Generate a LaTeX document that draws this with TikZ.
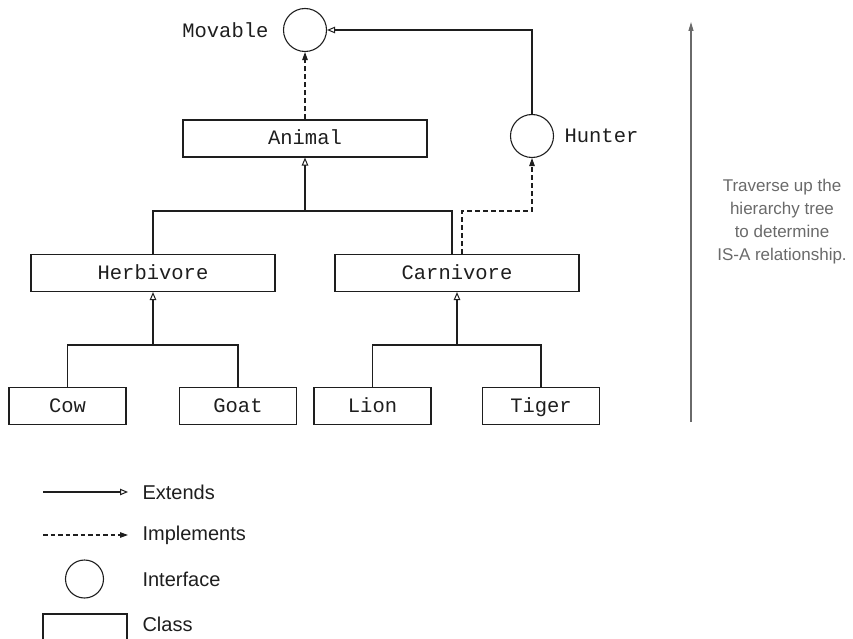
\documentclass[tikz,border=0pt]{standalone}
\usepackage{fontspec}
\setmainfont{Liberation Sans}
\newfontfamily\monofont{Liberation Mono}
\usetikzlibrary{arrows.meta,calc}
\definecolor{ink}{HTML}{1E1E1E}
\definecolor{note}{HTML}{6A6A6A}
\begin{document}
\begin{tikzpicture}[x=1pt,y=-1pt,
  line width=1.1pt, draw=ink,
  classbox/.style={draw=ink, rectangle, minimum height=37pt, inner sep=0pt, text height=16pt, text depth=3pt, font=\monofont\fontsize{20.5}{24}\selectfont, text=ink},
  bigclass/.style={classbox, minimum width=244pt},
  smallclass/.style={classbox, minimum width=117pt},
  iface/.style={draw=ink, circle, minimum size=43pt, inner sep=0pt},
  ifacelabel/.style={font=\monofont\fontsize{20.5}{24}\selectfont, text=ink, inner sep=0pt},
  ext/.style={draw=ink, -{Triangle[open, length=8pt, width=6.5pt, line width=1pt]}},
  impl/.style={draw=ink, dash pattern=on 5pt off 3pt, -{Triangle[length=8pt, width=5.5pt]}},
  legtext/.style={font=\fontsize{20}{24}\selectfont, text=ink, anchor=west, inner sep=0pt},
  notetext/.style={font=\fontsize{17}{23}\selectfont, text=note, align=center, inner sep=0pt}
]
\useasboundingbox (0,0) rectangle (853,639);

% interfaces
\node[iface] (mov) at (305,30) {};
\node[ifacelabel, anchor=east] (movl) at (269,30) {Movable};
\node[iface] (hun) at (532,136) {};
\node[ifacelabel, anchor=west] (hunl) at (564,136) {Hunter};

% classes
\node[bigclass] (animal) at (305,138.5) {Animal};
\node[bigclass] (herb) at (153,273) {Herbivore};
\node[bigclass] (carn) at (457,273) {Carnivore};
\node[smallclass] (cow) at (67.5,406) {Cow};
\node[smallclass] (goat) at (238,406) {Goat};
\node[smallclass] (lion) at (372.5,406) {Lion};
\node[smallclass] (tiger) at (541,406) {Tiger};

% hierarchy connectors
\coordinate (j1) at (305,211);
\draw (herb.north) |- (j1);
\draw ([xshift=-5pt]carn.north) |- (j1);
\draw[ext] (j1) -- (animal.south);

\coordinate (j2) at (153,345);
\draw (cow.north) |- (j2) -| (goat.north);
\draw[ext] (j2) -- (herb.south);

\coordinate (j3) at (457,345);
\draw (lion.north) |- (j3) -| (tiger.north);
\draw[ext] (j3) -- (carn.south);

\draw[impl] (animal.north) -- (mov.south);
\draw[impl] ([xshift=5pt]carn.north) -- ++(0,-43) -| (hun.south);
\draw[ext] (hun.north) |- (mov.east);

% traverse arrow and note
\coordinate (tb) at (691,422);
\coordinate (tt) at (691,22);
\draw[draw=note, line width=1.1pt, -{Triangle[length=9pt, width=5pt]}] (tb) -- (tt);
\node[notetext] (note) at (782,222) {Traverse up the\\hierarchy tree\\to determine\\IS-A relationship.};

% legend
\coordinate (e1) at (43,492);
\coordinate (e2) at (128,492);
\draw[ext] (e1) -- (e2);
\node[legtext] (et) at (142,492) {Extends};
\coordinate (i1) at (43,535);
\coordinate (i2) at (128,535);
\draw[impl, dash pattern=on 4.5pt off 3pt] (i1) -- (i2);
\node[legtext] (it) at (142,535) {Implements};
\node[draw=ink, circle, minimum size=38pt, inner sep=0pt] (lc) at (84.5,579) {};
\node[legtext] (ct) at (142,579) {Interface};
\draw (43,641) -- (43,614) -- (127,614) -- (127,641);
\node[legtext] (clt) at (142,624) {Class};
\end{tikzpicture}
\end{document}
